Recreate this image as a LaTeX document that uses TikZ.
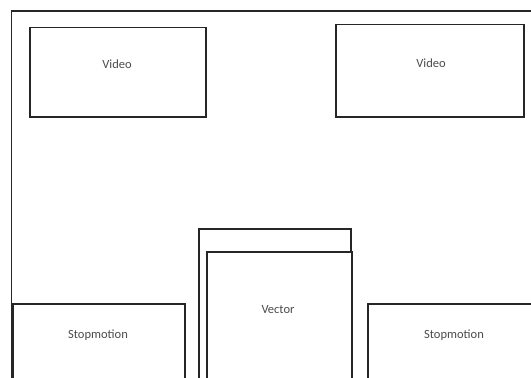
\documentclass[tikz,border=0pt]{standalone}
\usepackage{fontspec}
\setmainfont{Carlito}
\begin{document}
\begin{tikzpicture}[x=1pt,y=-1pt,
  frame/.style={draw=black!85,line width=1.8pt},
  panel/.style={draw=black!85,line width=1.8pt,fill=white,inner sep=0pt,
    anchor=north west},
  caption/.style={text=black!70,inner sep=0pt,
    font=\fontsize{12.5}{15}\selectfont}]
\useasboundingbox (0,0) rectangle (531,378);
\clip (0,0) rectangle (531,378);
\fill[white] (0,0) rectangle (531,378);
% outer sheet, open at the right and bottom
\coordinate (sheetB) at (11.5,400);
\coordinate (sheetC) at (11.5,11);
\coordinate (sheetR) at (545,11);
\draw[frame] (sheetB) -- (sheetC) -- (sheetR);
% video panels
\node[panel,minimum width=176,minimum height=89.5] (videoL) at (29,26.5) {};
\node[panel,minimum width=188,minimum height=92.5] (videoR) at (335,23.5) {};
% stacked vector panels
\node[panel,minimum width=152,minimum height=180] (vecBack) at (198,228) {};
\node[panel,minimum width=145,minimum height=160] (vecFront) at (206,251) {};
% stopmotion panels
\node[panel,minimum width=172,minimum height=100] (stopL) at (12,303) {};
\node[panel,minimum width=190,minimum height=100] (stopR) at (367,303) {};
% captions
\node[caption] (tVideoL) at (117,64) {Video};
\node[caption] (tVideoR) at (431,63) {Video};
\node[caption] (tVector) at (278,310) {Vector};
\node[caption] (tStopL) at (98,335) {Stopmotion};
\node[caption] (tStopR) at (454,335) {Stopmotion};
\end{tikzpicture}
\end{document}
